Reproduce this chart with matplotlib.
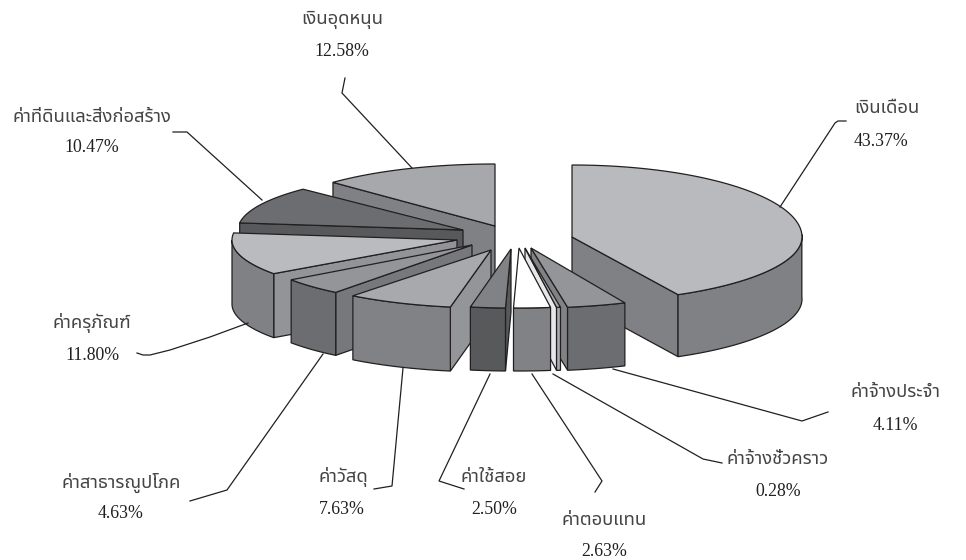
import numpy as np
import matplotlib
matplotlib.use("Agg")
import matplotlib.pyplot as plt
from matplotlib.patches import Polygon

LABELS = ["เงินเดือน", "ค่าจ้างประจำ", "ค่าจ้างชั่วคราว", "ค่าตอบแทน", "ค่าใช้สอย",
          "ค่าวัสดุ", "ค่าสาธารณูปโภค", "ค่าครุภัณฑ์", "ค่าที่ดินและสิ่งก่อสร้าง", "เงินอุดหนุน"]
SHARES = [43.37, 4.11, 0.28, 2.63, 2.50, 7.63, 4.63, 11.80, 10.47, 12.58]

# exploded layout, in pixels: apex of each slice and its ellipse radii
APEX = [(572, 237), (531, 248), (525, 248), (519, 248), (511, 249),
        (491, 250), (472, 245), (457, 240), (463, 230), (495, 226)]
RX = [230, 232, 225, 225, 225, 225, 222, 225, 225, 228]
RY_BACK = [72, 60, 60, 60, 59, 58, 60, 58, 58, 62]
RY_FRONT = [65, 60, 60, 60, 59, 58, 60, 58, 58, 62]
DEPTH = [62, 63, 63, 63, 63, 64, 63, 64, 64, 64]
WARP = [0.977, 1, 1, 1, 1, 1, 1, 1, 1, 1]
DRAW_ORDER = [9, 8, 7, 6, 5, 0, 1, 2, 3, 4]

TOP_COLORS = ["#b9babd", "#939598", "#a7a9ac", "#ffffff", "#808285",
              "#a7a9ac", "#939598", "#babbbe", "#6c6d70", "#a7a8ab"]
OUTER_COLORS = ["#808184", "#6c6d70", "#a9abae", "#808285", "#58595b",
                "#808285", "#6c6d70", "#808184", "#58595b", "#808184"]
RADIAL_COLORS = ["#808184", "#808285", "#e6e7e8", "#ffffff", "#58595b",
                 "#939598", "#77787b", "#929497", "#58595b", "#808184"]
EDGE = "#231f20"

NAME_POS = [(887, 108), (895, 392), (778, 459), (604, 520), (494, 477),
            (343, 477), (121, 483), (92, 323), (92, 117), (342, 20)]
VALUE_POS = [(881, 141), (895, 425), (778, 492), (604, 551), (494, 509),
             (342, 509), (121, 514), (92, 355), (92, 148), (342, 52)]
LEADERS = [
    [(846, 121), (838, 121), (835, 123), (780, 207)],
    [(828, 412), (802, 421), (613, 369)],
    [(722, 463), (703, 459), (553, 374)],
    [(595, 492), (602, 481), (532, 374)],
    [(464, 489), (439, 481), (490, 374)],
    [(374, 489), (392, 486), (403, 368)],
    [(190, 501), (227, 490), (323, 354)],
    [(137, 353), (143, 355), (150, 355), (170, 350), (210, 337), (248, 323)],
    [(173, 132), (187, 132), (262, 200)],
    [(345, 78), (342, 93), (412, 168)],
]


def rim_point(i, angle):
    # angle in degrees, clockwise from 12 o'clock
    t = np.radians(angle * WARP[i])
    ry = np.where(np.cos(t) >= 0, RY_BACK[i], RY_FRONT[i])
    return APEX[i][0] + RX[i] * np.sin(t), APEX[i][1] - ry * np.cos(t)


def face(ax, pts, color):
    ax.add_patch(Polygon(pts, closed=True, facecolor=color, edgecolor=EDGE,
                         linewidth=0.9, joinstyle="miter"))


def draw_slice(ax, i, start, end):
    cx, cy = APEX[i]
    d = DEPTH[i]
    for angle, visible in ((start, start > 180), (end, end < 180)):
        if visible:
            x, y = rim_point(i, angle)
            face(ax, [(cx, cy), (x, y), (x, y + d), (cx, cy + d)], RADIAL_COLORS[i])
    lo, hi = max(start, 90), min(end, 270)
    if lo < hi:
        x, y = rim_point(i, np.linspace(lo, hi, 60))
        upper = np.column_stack([x, y])
        lower = np.column_stack([x, y + d])[::-1]
        face(ax, np.vstack([upper, lower]), OUTER_COLORS[i])
    x, y = rim_point(i, np.linspace(start, end, 90))
    face(ax, np.vstack([[(cx, cy)], np.column_stack([x, y])]), TOP_COLORS[i])


fig = plt.figure(figsize=(9.66, 5.6), dpi=100)
ax = fig.add_axes([0, 0, 1, 1])
ax.set_xlim(0, 966)
ax.set_ylim(560, 0)
ax.axis("off")

bounds = np.concatenate([[0], np.cumsum(SHARES)]) * 3.6
for i in DRAW_ORDER:
    draw_slice(ax, i, bounds[i], bounds[i + 1])

for i, path in enumerate(LEADERS):
    xs, ys = zip(*path)
    ax.plot(xs, ys, color=EDGE, linewidth=0.9, solid_joinstyle="miter")
    ax.text(*NAME_POS[i], LABELS[i], ha="center", va="center", fontsize=13.3,
            color="#444444", family=["Noto Sans Thai", "DejaVu Sans"])
    ax.text(*VALUE_POS[i], f"{SHARES[i]:.2f}%", ha="center", va="center",
            fontsize=12.8, color="#231f20", family="Liberation Serif")

fig.savefig("out.png", dpi=100)
